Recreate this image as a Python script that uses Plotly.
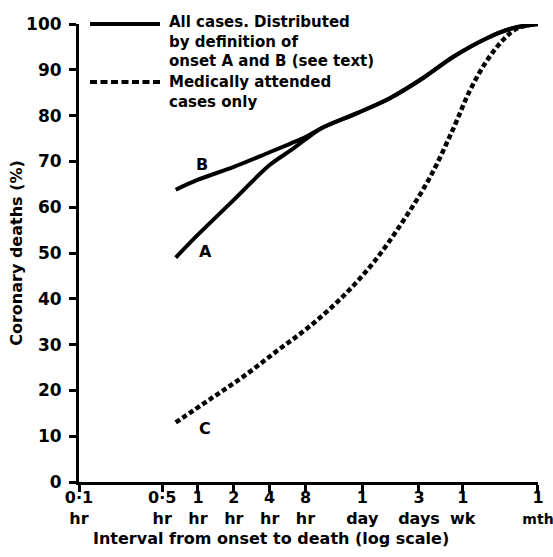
import plotly.graph_objects as go

# ---- data ----
# early part, where curves A and B are distinct (hours, %)
hours_early = [0.65, 1, 2, 4, 6, 8]
pct_A_early = [49, 54, 61.6, 69.2, 72.4, 74.8]
pct_B_early = [63.8, 66, 68.8, 72, 73.9, 75.3]
# later part, shared by A and B
hours_late = [11, 22, 41, 78, 139, 268, 443, 720]
pct_late = [77.3, 80.6, 83.8, 88.2, 92.8, 96.9, 99.1, 100]
# curve C: medically attended cases only
hours_C = [0.65, 1.25, 2.4, 4.6, 8.7, 16.5, 30, 53, 89, 139, 193, 268, 366, 480, 720]
pct_C = [13, 18, 23, 28.6, 34, 40.5, 48, 57, 66.5, 77, 85.5, 92, 96.5, 99, 100]

tick_hours = [0.1, 0.5, 1, 2, 4, 8, 24, 72, 168, 720]
tick_text = ["0·1<br>hr", "0·5<br>hr", "1<br>hr", "2<br>hr", "4<br>hr", "8<br>hr",
             "1<br>day", "3<br>days", "1<br>wk",
             "1<br><span style='font-size:14px'>mth</span>"]
y_ticks = list(range(0, 101, 10))

FONT = "DejaVu Sans"
BLACK = "#000000"
TXT = dict(family=FONT, size=16, color=BLACK, weight="bold")
LEG = dict(family=FONT, size=15, color=BLACK, weight="bold")

fig = go.Figure()
fig.add_trace(go.Scatter(x=hours_early + hours_late, y=pct_B_early + pct_late,
                         mode="lines", name="B",
                         line=dict(color=BLACK, width=4, shape="spline", smoothing=1)))
fig.add_trace(go.Scatter(x=hours_early + hours_late, y=pct_A_early + pct_late,
                         mode="lines", name="A",
                         line=dict(color=BLACK, width=4, shape="spline", smoothing=1)))
fig.add_trace(go.Scatter(x=hours_C, y=pct_C, mode="lines", name="C",
                         line=dict(color=BLACK, width=4.5, dash="5px,3px",
                                   shape="spline", smoothing=1)))

W, H = 553, 557
# plot area in page pixels
X0, X1, Y0, Y1 = 79, 538, 24, 482
L, R, T, B = X0, W - X1, Y0, H - Y1
pw, ph = X1 - X0, Y1 - Y0


def px_x(p):
    return (p - X0) / pw


def px_y(p):
    return (Y1 - p) / ph


annotations = [
    dict(text="All cases. Distributed<br>by definition of<br>onset A and B (see text)",
         xref="paper", yref="paper", x=px_x(168), y=px_y(42), xanchor="left",
         yanchor="middle", align="left", showarrow=False, font=LEG, borderpad=0),
    dict(text="Medically attended<br>cases only",
         xref="paper", yref="paper", x=px_x(168), y=px_y(92), xanchor="left",
         yanchor="middle", align="left", showarrow=False, font=LEG, borderpad=0),
]
for txt, xx, yy in [("B", 202, 164), ("A", 205, 251), ("C", 205, 428)]:
    annotations.append(dict(text=txt, xref="paper", yref="paper", x=px_x(xx), y=px_y(yy),
                            xanchor="center", yanchor="middle", showarrow=False, font=TXT))
annotations.append(dict(text="Interval from onset to death (log scale)", xref="paper",
                        yref="paper", x=px_x(271), y=px_y(538), xanchor="center",
                        yanchor="middle", showarrow=False, font=TXT))

shapes = [
    dict(type="line", xref="paper", yref="paper", x0=px_x(90), x1=px_x(160),
         y0=px_y(24), y1=px_y(24), line=dict(color=BLACK, width=4)),
    dict(type="line", xref="paper", yref="paper", x0=px_x(90), x1=px_x(162),
         y0=px_y(82), y1=px_y(82), line=dict(color=BLACK, width=4, dash="7px,3.5px")),
]

fig.update_layout(
    width=W, height=H,
    margin=dict(l=L, r=R, t=T, b=B, pad=0, autoexpand=False),
    paper_bgcolor="white", plot_bgcolor="white",
    showlegend=False,
    font=TXT,
    annotations=annotations,
    shapes=shapes,
    xaxis=dict(type="log", range=[-1, 2.8575],
               tickvals=tick_hours, ticktext=tick_text,
               showline=True, linecolor=BLACK, linewidth=3,
               ticks="outside", ticklen=7, tickwidth=3, tickcolor=BLACK,
               showgrid=False, zeroline=False, automargin=False,
               ticklabelstandoff=-8, ticklabeloverflow="allow",
               tickfont=TXT),
    yaxis=dict(range=[0, 100], tickvals=y_ticks,
               showline=True, linecolor=BLACK, linewidth=3,
               ticks="outside", ticklen=7, tickwidth=3, tickcolor=BLACK,
               showgrid=False, zeroline=False, automargin=False,
               ticklabelstandoff=4,
               tickfont=dict(family=FONT, size=17, color=BLACK, weight="bold"),
               title=dict(text="Coronary deaths (%)", standoff=0, font=TXT)),
)

fig.write_html("out.html",
               config={"displayModeBar": False},
               post_script="document.body.style.margin='0';"
                           "document.body.style.overflow='hidden';")
